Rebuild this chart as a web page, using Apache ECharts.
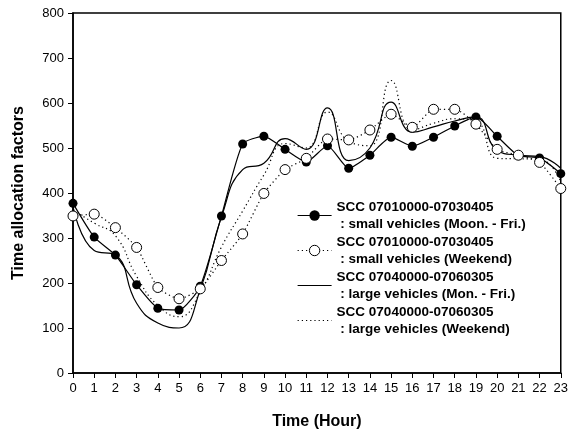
<!DOCTYPE html>
<html>
<head>
<meta charset="utf-8">
<script src="https://cdn.jsdelivr.net/npm/echarts@6/dist/echarts.min.js"></script>
<style>
    html, body { margin: 0; padding: 0; background: #fff; }
    #chart { width: 571px; height: 440px; }
</style>
</head>
<body>
<div id="chart"></div>
<script>
// hours on the x axis
const hours = [0, 1, 2, 3, 4, 5, 6, 7, 8, 9, 10, 11, 12, 13, 14, 15, 16, 17, 18, 19, 20, 21, 22, 23];
const yTicks = [0, 100, 200, 300, 400, 500, 600, 700, 800];

const legendNames = [
    'SCC 07010000-07030405\n : small vehicles (Moon. - Fri.)',
    'SCC 07010000-07030405\n : small vehicles (Weekend)',
    'SCC 07040000-07060305\n : large vehicles (Mon. - Fri.)',
    'SCC 07040000-07060305\n : large vehicles (Weekend)'
];

const smallWeekday = [377, 302, 262, 196, 144, 140, 193, 349, 509, 526, 497, 469, 505, 455, 484, 524, 504, 524, 549, 569, 526, 483, 478, 443];
const smallWeekend = [349, 353, 323, 279, 190, 165, 187, 250, 309, 399, 452, 477, 520, 518, 540, 575, 546, 586, 586, 553, 497, 484, 468, 410];
const largeWeekday = [370, 272, 262, 155, 111, 100, 185, 347, 452, 466, 521, 497, 589, 472, 500, 602, 535, 547, 560, 569, 495, 484, 481, 455];
const largeWeekend = [362, 333, 305, 215, 150, 125, 180, 280, 360, 440, 510, 500, 580, 515, 505, 650, 540, 555, 565, 560, 477, 476, 475, 425];

const pairs = (vals) => hours.map((h, i) => [h, vals[i]]);

const chart = echarts.init(document.getElementById('chart'));

const font = '"Liberation Sans", Arial, sans-serif';

chart.setOption({
    animation: false,
    backgroundColor: '#fff',
    grid: {
        left: 73,
        right: 6,
        top: 13,
        bottom: 67,
        show: true,
        borderColor: '#000',
        borderWidth: 1.5
    },
    legend: {
        orient: 'vertical',
        left: 297,
        top: 190,
        padding: 0,
        itemWidth: 34,
        itemHeight: 13,
        itemGap: -16,
        lineStyle: { width: 1.2 },
        itemStyle: { borderWidth: 1 },
        data: [
            legendNames[0],
            legendNames[1],
            // plain lines, no symbol in the key
            { name: legendNames[2], itemStyle: { opacity: 0 } },
            { name: legendNames[3], itemStyle: { opacity: 0 } }
        ],
        textStyle: {
            fontFamily: font,
            fontWeight: 'bold',
            fontSize: 13.5,
            color: '#000',
            lineHeight: 17,
            padding: [17, 0, 0, 0]
        }
    },
    xAxis: {
        type: 'value',
        min: 0,
        max: 23,
        interval: 1,
        name: 'Time (Hour)',
        nameLocation: 'middle',
        nameGap: 41,
        nameTextStyle: { fontFamily: font, fontWeight: 'bold', fontSize: 16, color: '#000' },
        axisLine: { lineStyle: { color: '#000', width: 1.5 } },
        axisTick: { show: true, length: 5, lineStyle: { color: '#000' } },
        axisLabel: { fontFamily: font, fontSize: 13, color: '#000', margin: 9 },
        splitLine: { show: false }
    },
    yAxis: {
        type: 'value',
        min: yTicks[0],
        max: yTicks[yTicks.length - 1],
        interval: 100,
        name: 'Time allocation factors',
        nameLocation: 'middle',
        nameGap: 46,
        nameTextStyle: { fontFamily: font, fontWeight: 'bold', fontSize: 16, color: '#000' },
        axisLine: { show: true, lineStyle: { color: '#000', width: 1.5 } },
        axisTick: { show: true, length: 5, lineStyle: { color: '#000' } },
        axisLabel: { fontFamily: font, fontSize: 13, color: '#000', margin: 9 },
        splitLine: { show: false }
    },
    series: [
        {
            name: legendNames[2],
            type: 'line',
            smooth: 0.5,
            showSymbol: false,
            symbol: 'none',
            itemStyle: { color: '#000' },
            lineStyle: { color: '#000', width: 1.2 },
            data: pairs(largeWeekday),
            z: 2
        },
        {
            name: legendNames[3],
            type: 'line',
            smooth: 0.5,
            showSymbol: false,
            symbol: 'none',
            itemStyle: { color: '#000' },
            lineStyle: { color: '#000', width: 1.2, type: [1.2, 3] },
            data: pairs(largeWeekend),
            z: 2
        },
        {
            name: legendNames[0],
            type: 'line',
            smooth: 0.2,
            symbol: 'circle',
            symbolSize: 9,
            itemStyle: { color: '#000' },
            lineStyle: { color: '#000', width: 1.2 },
            data: pairs(smallWeekday),
            z: 3
        },
        {
            name: legendNames[1],
            type: 'line',
            smooth: 0.2,
            symbol: 'circle',
            symbolSize: 10,
            itemStyle: { color: '#fff', borderColor: '#000', borderWidth: 1 },
            lineStyle: { color: '#000', width: 1.2, type: [1.2, 3] },
            data: pairs(smallWeekend),
            z: 4
        }
    ]
});
</script>
</body>
</html>
